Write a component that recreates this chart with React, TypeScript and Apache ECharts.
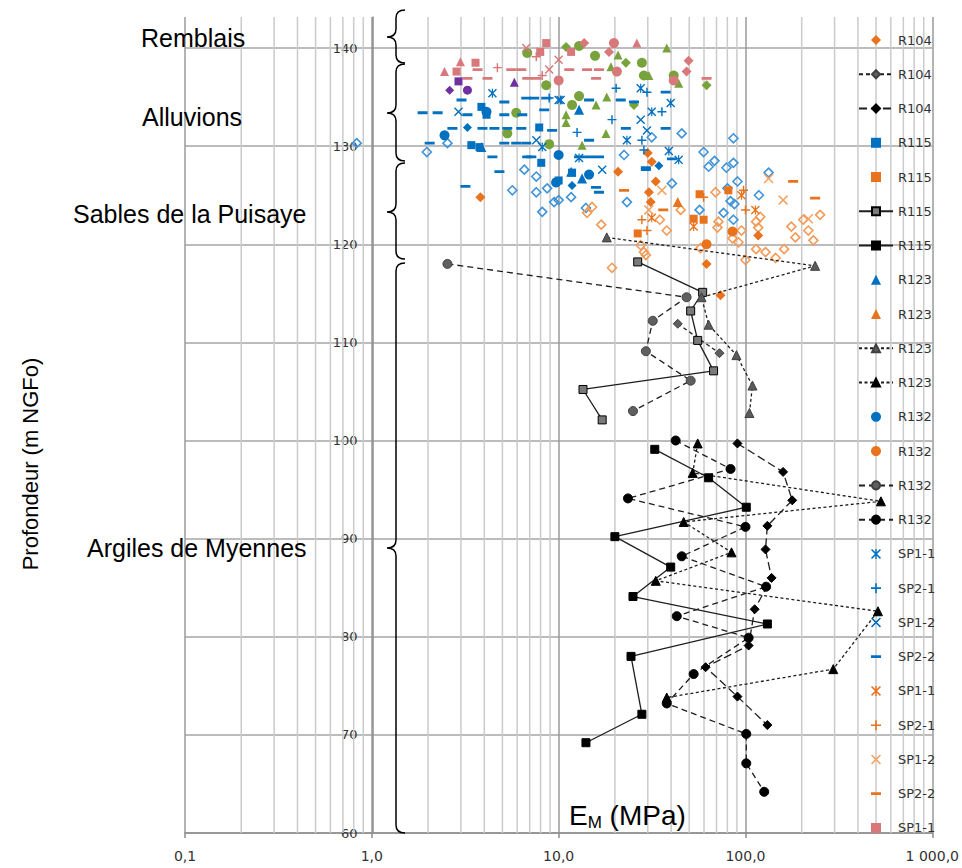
import React, { useEffect, useRef } from 'react';
import * as echarts from 'echarts';

type P = [number, number];

// ---------- axis ticks ----------
const X_TICKS = [0.1, 1, 10, 100, 1000];
const X_TICK_LABELS = ['0,1', '1,0', '10,0', '100,0', '1 000,0'];
const MINOR_GRID = [0.2, 0.3, 0.4, 0.5, 0.6, 0.7, 0.8, 0.9, 2, 3, 4, 5, 6, 7, 8, 9, 20, 30, 40, 50, 60, 70, 80, 90, 200, 300, 400, 500, 600, 700, 800, 900];

const LEGEND_NAMES = ['R104#1', 'R104#2', 'R104#3', 'R115#1', 'R115#2', 'R115#3', 'R115#4', 'R123#1', 'R123#2', 'R123#3', 'R123#4', 'R132#1', 'R132#2', 'R132#3', 'R132#4', 'SP1-1#1', 'SP2-1#1', 'SP1-2#1', 'SP2-2#1', 'SP1-1#2', 'SP2-1#2', 'SP1-2#2', 'SP2-2#2', 'SP1-1#3'];

// ---------- data: [EM (MPa), depth (m NGFo)] ----------
const r104Orange: P[] = [[3.81, 124.8], [20.8, 127.4], [30.0, 129.3], [31.5, 128.4], [33.1, 126.4], [30.4, 125.3], [31.1, 124.3], [61.9, 118.0], [117, 120.9], [73.5, 114.8]];
const r104Gray: P[] = [[43.4, 111.9], [72.6, 108.9]];
const r104Black: P[] = [[90.6, 99.7], [159, 96.8], [178, 93.9], [131, 91.3], [128, 88.9], [138, 86.0], [112, 82.8], [104, 79.1], [61.2, 76.9], [90.6, 73.9], [131, 71.0]];
const r115Blue: P[] = [[3.86, 134.0], [4.11, 133.2], [7.87, 131.9], [3.41, 130.1], [3.77, 129.9], [8.07, 128.3], [10, 126.5], [11.8, 127.3]];
const r115Orange: P[] = [[56.8, 125.1], [52.8, 122.6], [59.7, 122.5], [81.0, 125.5], [26.5, 121.1]];
const r115Gray: P[] = [[26.5, 118.2], [59, 115.1], [50.9, 113.2], [55.5, 110.2], [67.5, 107.1], [13.5, 105.2], [17.1, 102.1]];
const r115Black: P[] = [[32.7, 99.1], [63.5, 96.2], [101, 93.2], [20.0, 90.2], [39.8, 87.1], [25.0, 84.1], [131, 81.3], [24.4, 78.0], [27.9, 72.1], [14.0, 69.2]];
const r123Blue: P[] = [[12.86, 133.7], [3.86, 129.9], [11.66, 127.4], [13.35, 126.7]];
const r123Orange: P[] = [[43.4, 124.3]];
const r123Gray: P[] = [[18.1, 120.7], [236, 117.8], [58.2, 114.6], [63.5, 111.8], [89.5, 108.7], [109, 105.6], [105, 102.8]];
const r123Black: P[] = [[55.5, 99.7], [52.2, 96.7], [531, 93.8], [46.7, 91.7], [84.2, 88.6], [33.1, 85.7], [512, 82.6], [295, 76.7], [37.9, 73.8]];
const r132Blue: P[] = [[2.45, 131.1], [4.11, 133.5], [10, 129.1], [14.55, 127.1], [9.69, 126.3]];
const r132Orange: P[] = [[61.9, 120.0], [85.2, 121.3]];
const r132Gray: P[] = [[2.54, 118.0], [48.4, 114.6], [31.9, 112.2], [29.3, 109.1], [50.9, 106.1], [25.0, 103.0]];
const r132Black: P[] = [[42.3, 100.0], [83.2, 97.1], [23.5, 94.1], [100, 91.2], [45.6, 88.2], [129, 85.1], [42.9, 82.1], [104, 79.9], [52.8, 76.2], [37.9, 73.2], [101, 70.1], [101, 67.1], [126, 64.2]];
const sp11Blue: P[] = [[4.42, 135.4], [10.25, 134.7], [27.5, 135.9], [39.8, 134.4], [31.5, 133.5], [23.2, 130.6], [8.17, 129.9], [38.9, 129.5], [43.9, 128.6], [12.86, 128.8]];
const sp21Blue: P[] = [[20.3, 135.9], [29.7, 135.5], [8.9, 134.9], [35.7, 133.5], [19.3, 132.7], [12.55, 131.4], [27.9, 130.6], [28.6, 129.6]];
const sp12Blue: P[] = [[2.91, 133.5], [10, 134.7], [27.5, 132.7], [29.7, 131.6], [17.1, 127.6], [7.59, 130.6]];
const sp22Blue: P[] = [[3.02, 134.7], [1.87, 133.4], [2.25, 133.4], [3.25, 133.2], [5.12, 134.5], [6.71, 134.9], [7.4, 134.9], [8.58, 134.9], [14.55, 134.7], [21.5, 134.7], [25.3, 134.5], [37.4, 135.5], [5.12, 133.2], [6.39, 133.2], [8.37, 133.7], [2.7, 131.8], [3.91, 131.8], [4.53, 131.8], [5.31, 131.8], [6.31, 131.8], [9.23, 131.6], [22.9, 131.8], [37.4, 131.8], [2.04, 130.3], [5.12, 130.3], [5.93, 130.3], [6.71, 130.3], [14.55, 130.6], [4.42, 128.9], [6.79, 128.9], [12.86, 128.9], [14.55, 128.9], [16.44, 128.9], [3.17, 125.9], [4.82, 127.4], [7.14, 128.9], [15.86, 125.8], [16.44, 125.3], [29.3, 127.6], [40.4, 128.7], [29.3, 127.8]];
const sp11Orange: P[] = [[31.5, 122.7], [52.8, 121.8], [95.2, 125.0], [113, 123.5]];
const sp21Orange: P[] = [[27.9, 122.5], [29.7, 121.4], [59.7, 124.8], [97.6, 125.5], [100, 123.5]];
const sp12Orange: P[] = [[35.7, 125.5], [133, 126.7], [159, 124.5], [30.4, 123.5], [217, 122.6]];
const sp22Orange: P[] = [[22.4, 125.5], [36.3, 123.5], [180, 126.4], [236, 124.7]];
const sp11Pink: P[] = [[8.58, 140.5], [7.97, 139.6], [11.66, 139.6], [3.59, 138.5], [2.84, 137.6]];

// series without a visible legend entry
const blueOpen: P[] = [[0.83, 130.3], [1.97, 129.4], [2.54, 130.3], [5.65, 125.5], [6.55, 127.6], [7.59, 126.9], [7.59, 125.3], [8.68, 125.7], [8.17, 123.3], [9.46, 124.3], [10, 124.5], [11.66, 124.8], [14.0, 123.7], [23.2, 124.3], [40.4, 126.2], [56.8, 123.5], [45.6, 131.3], [31.5, 130.9], [22.4, 129.1], [59.7, 129.4], [86.2, 130.8], [63.5, 127.9], [68.3, 128.5], [86.2, 128.3], [90.6, 126.4], [80.1, 125.7], [83.2, 124.4], [87.3, 124.1], [76.3, 123.2], [86.2, 122.5], [118, 125.0], [133, 127.3], [79.1, 127.8]];
const orangeOpen: P[] = [[14.2, 123.2], [15.1, 123.8], [16.9, 122.0], [19.3, 117.6], [27.5, 119.9], [29.3, 118.9], [37.9, 121.4], [45.0, 123.5], [69.2, 125.3], [71.7, 122.3], [70.8, 121.7], [95.2, 121.4], [85.2, 120.6], [91.7, 120.2], [114, 119.5], [128, 119.2], [145, 118.6], [161, 119.5], [176, 121.8], [185, 120.7], [204, 122.5], [217, 121.4], [231, 120.4], [251, 123.0], [114, 122.3], [120, 122.8], [117, 121.7], [100, 118.4], [34.8, 122.5], [28.6, 119.2], [57.4, 119.6]];
const greenTri: P[] = [[37.9, 140.0], [20.8, 139.3], [19.05, 138.1], [30.4, 137.2], [43.9, 136.4], [18.1, 135.0], [15.86, 134.2], [10.96, 133.2], [10.96, 132.4], [17.92, 131.3], [13.35, 130.1]];
const greenCircle: P[] = [[12.86, 140.2], [15.66, 139.2], [6.79, 139.5], [8.58, 136.2], [27.9, 138.5], [12.86, 135.1], [11.8, 134.2], [5.93, 133.4], [5.31, 131.3], [8.9, 130.2], [41.3, 137.2], [28.6, 137.2]];
const greenDiamond: P[] = [[10.96, 140.1], [61.9, 136.2], [22.9, 138.5], [25.3, 134.2]];
const pinkTri: P[] = [[2.98, 138.6], [2.45, 137.6], [26.2, 140.5]];
const pinkCircle: P[] = [[19.77, 140.5], [10, 136.7], [20.5, 137.6], [41.3, 136.7]];
const pinkDiamond: P[] = [[13.7, 140.5], [18.6, 139.6], [49.6, 138.7], [48.4, 137.6]];
const pinkCross: P[] = [[6.71, 140.0], [8.9, 137.8], [10, 138.8]];
const pinkPlus: P[] = [[7.59, 139.1], [4.7, 138.0], [8.17, 137.2]];
const pinkDash: P[] = [[3.68, 137.8], [5.58, 137.8], [6.31, 137.8], [11.4, 137.8], [14.2, 137.8], [16.44, 137.8], [3.25, 136.9], [4.16, 136.9], [6.79, 136.9], [7.59, 136.9], [15.86, 136.9], [61.9, 136.9]];
const purpleDiamond: P[] = [[2.61, 135.7]];
const purpleSquare: P[] = [[2.91, 136.6]];
const purpleCircle: P[] = [[3.25, 135.7]];
const purpleTri: P[] = [[5.79, 136.5]];
const blueDiamond: P[] = [[3.25, 131.9], [34.4, 128.0], [11.8, 126.0]];

// ---------- styles ----------
const BLUE = '#0070c0';
const ORANGE = '#e9721c';
const LIGHT_ORANGE = '#f4a262';
const BLUE_OPEN = '#3f93d8';
const ORANGE_OPEN = '#f39a56';
const GREEN = '#77a23c';
const PINK = '#d8787a';
const PURPLE = '#7030a0';

const SYM = {
  diamond: 'path://M5,0L10,5L5,10L0,5Z',
  rect: 'path://M0,0h10v10h-10z',
  triangle: 'path://M5,0L10,10L0,10Z',
  plus: 'path://M4.2,0h1.6v4.2h4.2v1.6h-4.2v4.2h-1.6v-4.2h-4.2v-1.6h4.2z',
  cross: 'path://M1.1,0L5,3.9L8.9,0L10,1.1L6.1,5L10,8.9L8.9,10L5,6.1L1.1,10L0,8.9L3.9,5L0,1.1Z',
  star: 'path://M1.1,0L5,3.9L8.9,0L10,1.1L6.1,5L10,8.9L8.9,10L5,6.1L1.1,10L0,8.9L3.9,5L0,1.1Z M4.35,0h1.3v10h-1.3z',
  dash: 'path://M0,3.6h10v2.8h-10z M0,0h0.01v0.01h-0.01z M10,10h-0.01v-0.01h0.01z',
};

echarts.graphic.registerShape(
  'brace',
  echarts.graphic.extendShape({
    shape: { x: 0, y1: 0, y2: 0, ym: 0, w: 18, r: 8 },
    buildPath(ctx: any, s: any) {
      const xr = s.x + s.w;
      const xs = s.x + s.w / 2;
      const xt = s.x;
      const r = s.r;
      ctx.moveTo(xr, s.y1);
      ctx.quadraticCurveTo(xs, s.y1, xs, s.y1 + r);
      ctx.lineTo(xs, s.ym - r);
      ctx.quadraticCurveTo(xs, s.ym, xt, s.ym);
      ctx.quadraticCurveTo(xs, s.ym, xs, s.ym + r);
      ctx.lineTo(xs, s.y2 - r);
      ctx.quadraticCurveTo(xs, s.y2, xr, s.y2);
    },
  }) as any
);

function scatter(name: string, data: P[], symbol: string, size: number, color: string, hollow = false) {
  return {
    type: 'scatter',
    name,
    data,
    symbol,
    symbolSize: size,
    z: 3,
    itemStyle: hollow
      ? { color: 'rgba(255,255,255,0)', borderColor: color, borderWidth: 1.6, opacity: 1 }
      : { color, opacity: 1 },
    emphasis: { disabled: true },
  };
}

function lineSeries(name: string, data: P[], symbol: string, size: number, fill: string, border: string, dash: any) {
  return {
    type: 'line',
    name,
    data,
    symbol,
    symbolSize: size,
    showSymbol: true,
    z: 4,
    lineStyle: { color: '#1e1e1e', width: 1.3, type: dash },
    itemStyle: { color: fill, borderColor: border, borderWidth: 1, opacity: 1 },
    emphasis: { disabled: true },
  };
}

const FONT = 'Liberation Sans, Arial, sans-serif';

function brace(y1: number, ym: number, y2: number) {
  return {
    type: 'brace',
    z: 100,
    shape: { x: 387, y1, ym, y2, w: 18, r: 8 },
    style: { stroke: '#000', fill: 'none', lineWidth: 1.5 },
  };
}

function label(text: string, x: number, y: number) {
  return {
    type: 'text',
    z: 100,
    x,
    y,
    style: { text, fontSize: 25, fontFamily: FONT, fill: '#000', align: 'left', verticalAlign: 'middle' },
  };
}

export default function App() {
  const ref = useRef<HTMLDivElement>(null);

  useEffect(() => {
    if (!ref.current) return;
    const chart = echarts.init(ref.current, undefined, { renderer: 'svg' });

    const option: any = {
      animation: false,
      backgroundColor: '#ffffff',
      grid: { left: 185, right: 27, top: 17, bottom: 35, containLabel: false },
      xAxis: {
        type: 'log',
        logBase: 10,
        min: 0.1,
        max: 1000,
        axisLine: { show: true, onZero: false, lineStyle: { color: '#8c8c8c', width: 1.5 } },
        axisTick: { show: true, length: 5, lineStyle: { color: '#8c8c8c', width: 1.5 } },
        axisLabel: {
          margin: 16,
          fontFamily: 'DejaVu Sans',
          fontSize: 14,
          color: '#333333',
          formatter: (v: number) => {
            const i = X_TICKS.findIndex((t) => Math.abs(Math.log10(t) - Math.log10(v)) < 1e-6);
            return i >= 0 ? X_TICK_LABELS[i] : '';
          },
        },
        splitLine: { show: true, lineStyle: { color: '#9a9a9a', width: 1.5 } },
      },
      yAxis: {
        type: 'value',
        min: 60,
        max: 143.16,
        interval: 10,
        offset: -187.5,
        axisLine: { show: true, onZero: false, lineStyle: { color: '#8c8c8c', width: 1.5 } },
        axisTick: { show: false },
        axisLabel: { margin: 15, fontFamily: 'DejaVu Sans', fontSize: 13, color: '#333333', showMaxLabel: false },
        splitLine: { show: true, showMaxLine: false, lineStyle: { color: '#a6a6a6', width: 1.5 } },
      },
      legend: {
        orient: 'vertical',
        left: 858,
        top: 33,
        padding: 0,
        itemWidth: 34,
        itemHeight: 10,
        itemGap: 20.26,
        selectedMode: false,
        data: LEGEND_NAMES,
        formatter: (n: string) => n.split('#')[0],
        textStyle: { fontFamily: 'DejaVu Sans', fontSize: 13, color: '#333333', lineHeight: 14 },
      },
      graphic: [
        label('Remblais', 141, 38),
        label('Alluvions', 142, 117),
        label('Sables de la Puisaye', 73, 214),
        label('Argiles de Myennes', 87, 548),
        brace(10, 37, 63),
        brace(64, 113, 161),
        brace(163, 212, 259),
        brace(263, 548, 833),
        {
          type: 'text',
          z: 100,
          x: 30,
          y: 464,
          rotation: Math.PI / 2,
          style: { text: 'Profondeur (m NGFo)', fontSize: 22, fontFamily: FONT, fill: '#000', align: 'center', verticalAlign: 'middle' },
        },
        {
          type: 'text',
          z: 100,
          x: 569,
          y: 815,
          style: {
            text: '{a|E}{b|M}{a| (MPa)}',
            align: 'left',
            verticalAlign: 'middle',
            rich: {
              a: { fontSize: 28, fontFamily: FONT, fill: '#000', lineHeight: 32 },
              b: { fontSize: 17, fontFamily: FONT, fill: '#000', lineHeight: 20, verticalAlign: 'bottom' },
            },
          },
        },
      ],
      series: [
        {
          type: 'custom',
          name: 'minorGrid',
          silent: true,
          z: 1,
          data: MINOR_GRID.map((v) => [v, 100]),
          renderItem: (params: any, api: any) => {
            const x = api.coord([api.value(0), api.value(1)])[0];
            const cs = params.coordSys;
            return {
              type: 'line',
              shape: { x1: x, y1: cs.y, x2: x, y2: cs.y + cs.height },
              style: { stroke: '#cbcbcb', lineWidth: 1.5 },
            };
          },
        },
        scatter('blueOpen', blueOpen, SYM.diamond, 9, BLUE_OPEN, true),
        scatter('orangeOpen', orangeOpen, SYM.diamond, 9, ORANGE_OPEN, true),
        scatter('greenTri', greenTri, SYM.triangle, 9, GREEN),
        scatter('greenCircle', greenCircle, 'circle', 10, GREEN),
        scatter('greenDiamond', greenDiamond, SYM.diamond, 10, GREEN),
        scatter('pinkTri', pinkTri, SYM.triangle, 9, PINK),
        scatter('pinkCircle', pinkCircle, 'circle', 10, PINK),
        scatter('pinkDiamond', pinkDiamond, SYM.diamond, 10, PINK),
        scatter('pinkCross', pinkCross, SYM.cross, 9, PINK),
        scatter('pinkPlus', pinkPlus, SYM.plus, 9, PINK),
        scatter('pinkDash', pinkDash, SYM.dash, 10, PINK),
        scatter('purpleDiamond', purpleDiamond, SYM.diamond, 9, PURPLE),
        scatter('purpleSquare', purpleSquare, SYM.rect, 8, PURPLE),
        scatter('purpleCircle', purpleCircle, 'circle', 9, PURPLE),
        scatter('purpleTri', purpleTri, SYM.triangle, 9, PURPLE),
        scatter('blueDiamond', blueDiamond, SYM.diamond, 9, BLUE),

        scatter('R104#1', r104Orange, SYM.diamond, 10, ORANGE),
        lineSeries('R104#2', r104Gray, 'diamond', 9, '#5f5f5f', '#404040', [4, 3]),
        lineSeries('R104#3', r104Black, 'diamond', 9, '#000000', '#000000', [8, 4]),
        scatter('R115#1', r115Blue, SYM.rect, 8, BLUE),
        scatter('R115#2', r115Orange, SYM.rect, 8, ORANGE),
        lineSeries('R115#3', r115Gray, 'rect', 8, '#7a7a7a', '#000000', 'solid'),
        lineSeries('R115#4', r115Black, 'rect', 8, '#000000', '#000000', 'solid'),
        scatter('R123#1', r123Blue, SYM.triangle, 10, BLUE),
        scatter('R123#2', r123Orange, SYM.triangle, 10, ORANGE),
        lineSeries('R123#3', r123Gray, 'triangle', 9, '#5a5a5a', '#404040', [3, 2.5]),
        lineSeries('R123#4', r123Black, 'triangle', 9, '#000000', '#000000', [3, 2.5]),
        scatter('R132#1', r132Blue, 'circle', 10, BLUE),
        scatter('R132#2', r132Orange, 'circle', 10, ORANGE),
        lineSeries('R132#3', r132Gray, 'circle', 9, '#5f5f5f', '#404040', [6, 4]),
        lineSeries('R132#4', r132Black, 'circle', 9, '#000000', '#000000', [6, 4]),
        scatter('SP1-1#1', sp11Blue, SYM.star, 9, BLUE),
        scatter('SP2-1#1', sp21Blue, SYM.plus, 9, BLUE),
        scatter('SP1-2#1', sp12Blue, SYM.cross, 9, BLUE),
        scatter('SP2-2#1', sp22Blue, SYM.dash, 10, BLUE),
        scatter('SP1-1#2', sp11Orange, SYM.star, 9, ORANGE),
        scatter('SP2-1#2', sp21Orange, SYM.plus, 9, ORANGE),
        scatter('SP1-2#2', sp12Orange, SYM.cross, 10, LIGHT_ORANGE),
        scatter('SP2-2#2', sp22Orange, SYM.dash, 10, ORANGE),
        scatter('SP1-1#3', sp11Pink, SYM.rect, 8, PINK),
      ],
    };

    chart.setOption(option);
    return () => {
      chart.dispose();
    };
  }, []);

  return <div ref={ref} style={{ position: 'fixed', left: 0, top: 0, width: 962, height: 868, background: '#fff' }} />;
}
